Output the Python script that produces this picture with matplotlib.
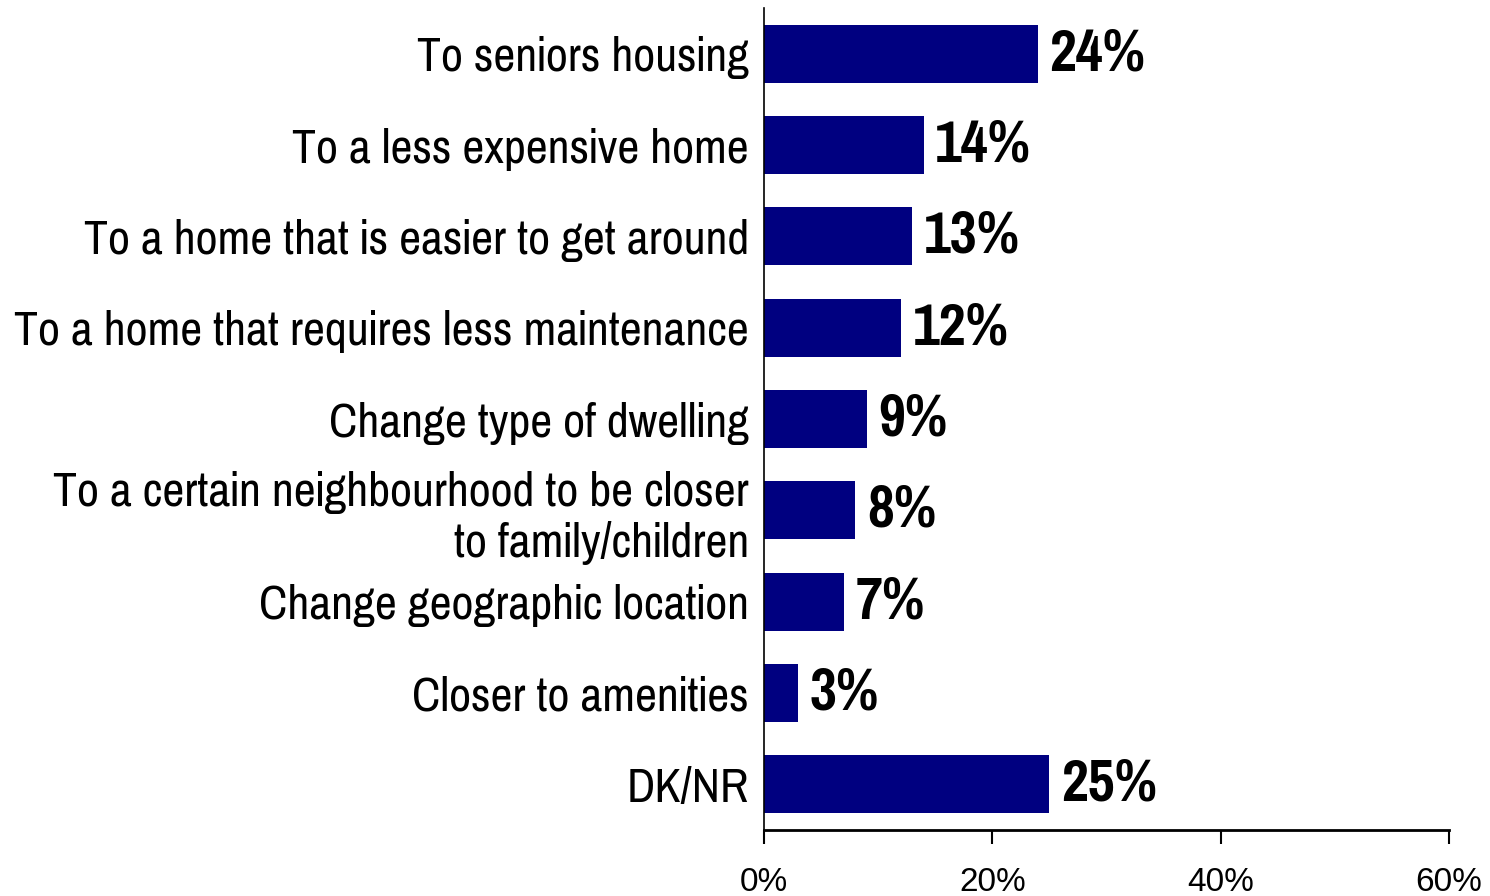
import numpy as np
import matplotlib
matplotlib.use("Agg")
import matplotlib.pyplot as plt
from matplotlib import font_manager

categories = [
    "To seniors housing",
    "To a less expensive home",
    "To a home that is easier to get around",
    "To a home that requires less maintenance",
    "Change type of dwelling",
    "To a certain neighbourhood to be closer\nto family/children",
    "Change geographic location",
    "Closer to amenities",
    "DK/NR",
]
values = [24, 14, 13, 12, 9, 8, 7, 3, 25]
xticks = [0, 20, 40, 60]

# narrow font like Arial Narrow, fall back if missing
names = {f.name for f in font_manager.fontManager.ttflist}
narrow = "Liberation Sans"
for cand in ["Liberation Sans Narrow", "Pragati Narrow", "PT Sans Narrow", "Archivo Narrow"]:
    if cand in names:
        narrow = cand
        break
plt.rcParams["font.family"] = [narrow, "DejaVu Sans"]

fig = plt.figure(figsize=(14.9, 8.96), dpi=100)
ax = fig.add_axes([0.5128, 0.0737, 0.4597, 0.9173])

y = np.arange(len(categories))
ax.barh(y, values, height=0.635, color="#000080")
for yi, v in zip(y, values):
    ax.text(v + 1.0, yi, f"{v}%", va="center", ha="left",
            fontsize=46, fontweight="bold")

ax.set_ylim(len(categories) - 0.5, -0.5)
ax.set_xlim(0, 60)
ax.set_yticks(y)
ax.set_yticklabels(categories, fontsize=37.5, linespacing=1.2)
ax.tick_params(axis="y", length=0, pad=11)
ax.set_xticks(xticks)
ax.set_xticklabels([f"{t}%" for t in xticks], fontsize=24,
                   family=["Liberation Sans", "DejaVu Sans"])
ax.tick_params(axis="x", direction="out", length=10, width=1.5, pad=17)

for s in ["top", "right"]:
    ax.spines[s].set_visible(False)
ax.spines["bottom"].set_linewidth(2)
ax.spines["left"].set_linewidth(1.2)

fig.savefig("out.png", dpi=100)
